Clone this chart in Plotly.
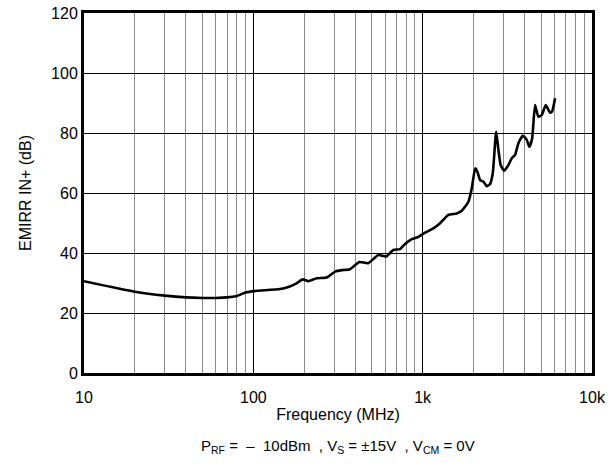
import plotly.graph_objects as go

freq_mhz = [10, 20, 30, 40, 50, 60, 70, 80, 90, 100, 144, 161, 180, 196, 211, 237, 271, 304, 333, 372,
            423, 477, 547, 608, 671, 735, 787, 862, 945, 1033, 1157, 1267, 1419, 1590, 1702, 1863, 1950,
            2042, 2105, 2183, 2283, 2390, 2500, 2594, 2716, 2803, 2889, 3027, 3208, 3360, 3514, 3677,
            3900, 4118, 4270, 4430, 4612, 4822, 5048, 5330, 5650, 5800, 6053]
emirr_db = [30.6, 27.1, 25.8, 25.2, 25.0, 25.0, 25.2, 25.7, 26.8, 27.3, 28.0, 28.7, 29.9, 31.2, 30.6,
            31.6, 31.8, 33.8, 34.3, 34.6, 37.0, 36.6, 39.3, 38.8, 41.0, 41.3, 43.0, 44.6, 45.4, 46.8,
            48.2, 49.9, 52.7, 53.2, 54.1, 57.1, 61.6, 68.2, 67.1, 64.3, 63.8, 62.3, 63.0, 66.6, 80.4,
            74.3, 69.3, 67.4, 69.3, 71.6, 72.7, 76.6, 79.1, 77.7, 75.4, 78.2, 89.3, 85.4, 86.0, 89.3,
            86.8, 87.1, 91.6]

x_tickvals = [10, 100, 1000, 10000]
x_ticktext = ["10", "100", "1k", "10k"]
y_tickvals = [0, 20, 40, 60, 80, 100, 120]

FONT = "Liberation Sans, Arial, sans-serif"
NB = "\u00a0"

fig = go.Figure()
fig.add_trace(go.Scatter(x=freq_mhz, y=emirr_db, mode="lines",
                         line=dict(color="black", width=2.6, shape="spline", smoothing=0.5),
                         showlegend=False, hoverinfo="skip"))

note = ("P<sub>RF</sub> = " + NB + "\u2013" + NB + " 10dBm" + NB + " , V<sub>S</sub> = \u00b115V" + NB
        + " , V<sub>CM</sub> = 0V")

fig.update_layout(
    width=608, height=474,
    margin=dict(l=84, r=16, t=13, b=101, autoexpand=False),
    paper_bgcolor="white", plot_bgcolor="white",
    font=dict(family=FONT, size=16, color="black"),
    xaxis=dict(type="log", range=[1, 4], tickvals=x_tickvals, ticktext=x_ticktext,
               automargin=False, ticklabeloverflow="allow",
               showgrid=True, gridcolor="black", gridwidth=1,
               minor=dict(showgrid=True, gridcolor="#8a8a8a", gridwidth=1, dtick="D1"),
               showline=True, linecolor="black", linewidth=3, mirror=True,
               ticks="", tickfont=dict(size=16), ticklabelstandoff=8,
               title=dict(text="Frequency (MHz)", font=dict(size=16), standoff=4),
               zeroline=False),
    yaxis=dict(range=[0, 120], tickvals=y_tickvals, automargin=False, ticklabeloverflow="allow",
               showgrid=True, gridcolor="black", gridwidth=1,
               showline=True, linecolor="black", linewidth=3, mirror=True,
               ticks="", tickfont=dict(size=16),
               title=dict(text="EMIRR IN+ (dB)", font=dict(size=16), standoff=16),
               zeroline=False),
    annotations=[dict(text=note,
                      xref="paper", yref="paper", x=0.5, y=-0.205, xanchor="center", yanchor="middle",
                      showarrow=False, font=dict(size=15, family=FONT))],
)

fig.write_html("out.html", config={"displayModeBar": False},
               post_script="document.body.style.margin='0';document.body.style.overflow='hidden';")
